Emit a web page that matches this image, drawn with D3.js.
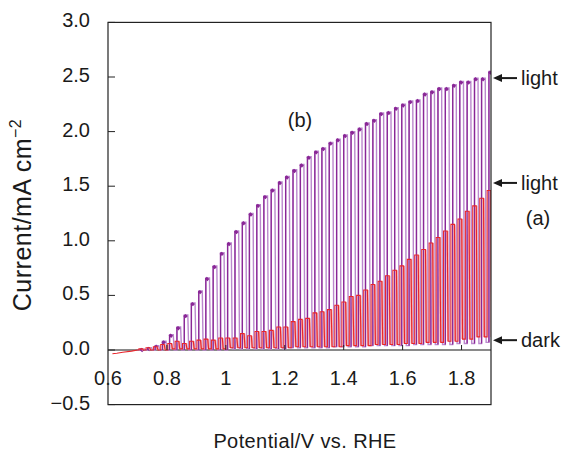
<!DOCTYPE html>
<html>
<head>
<meta charset="utf-8">
<script src="https://d3js.org/d3.v7.min.js"></script>
<style>
  body { margin: 0; background: #fff; }
  text { font-family: "Liberation Sans", Arial, Helvetica, sans-serif; fill: #1a1a1a; }
</style>
</head>
<body>
<div id="chart"></div>
<script>
// chopped-light scans: potential where the light goes on, current with light on and in the dark
const purpleOn = [0.711, 0.735, 0.760, 0.785, 0.809, 0.834, 0.859, 0.883, 0.908, 0.932,
  0.957, 0.982, 1.006, 1.031, 1.056, 1.080, 1.105, 1.129, 1.154, 1.179,
  1.203, 1.228, 1.253, 1.277, 1.302, 1.326, 1.351, 1.376, 1.400, 1.425,
  1.450, 1.474, 1.499, 1.523, 1.548, 1.573, 1.597, 1.622, 1.647, 1.671,
  1.696, 1.720, 1.745, 1.770, 1.794, 1.819, 1.844, 1.868, 1.893];
const purpleLight = [0.01, 0.02, 0.04, 0.08, 0.14, 0.21, 0.32, 0.43, 0.54, 0.66,
  0.77, 0.89, 0.98, 1.09, 1.17, 1.25, 1.33, 1.41, 1.47, 1.54,
  1.59, 1.65, 1.70, 1.77, 1.82, 1.85, 1.90, 1.93, 1.97, 2.00,
  2.03, 2.08, 2.11, 2.17, 2.18, 2.22, 2.25, 2.28, 2.29, 2.35,
  2.37, 2.40, 2.40, 2.43, 2.46, 2.46, 2.49, 2.49, 2.55];
const purpleDark = [0.00, 0.00, 0.00, 0.00, 0.00, 0.00, 0.00, 0.00, 0.00, 0.00,
  0.00, 0.00, 0.01, 0.01, 0.01, 0.01, 0.01, 0.01, 0.01, 0.01,
  0.02, 0.02, 0.02, 0.02, 0.02, 0.02, 0.03, 0.03, 0.03, 0.03,
  0.03, 0.04, 0.04, 0.04, 0.04, 0.04, 0.04, 0.05, 0.05, 0.05,
  0.05, 0.05, 0.05, 0.06, 0.06, 0.06, 0.06, 0.07, 0.07];
const purpleStartV = [0.70];
const purpleStartI = [0.00];

const redOn = [0.705, 0.729, 0.754, 0.779, 0.803, 0.828, 0.853, 0.877, 0.902, 0.926,
  0.951, 0.976, 1.000, 1.025, 1.050, 1.074, 1.099, 1.123, 1.148, 1.173,
  1.197, 1.222, 1.247, 1.271, 1.296, 1.320, 1.345, 1.370, 1.394, 1.419,
  1.444, 1.468, 1.493, 1.517, 1.542, 1.567, 1.591, 1.616, 1.641, 1.665,
  1.690, 1.714, 1.739, 1.764, 1.788, 1.813, 1.838, 1.862, 1.887];
const redLight = [0.01, 0.02, 0.03, 0.05, 0.06, 0.08, 0.06, 0.08, 0.09, 0.10,
  0.09, 0.11, 0.11, 0.11, 0.15, 0.13, 0.17, 0.17, 0.18, 0.21,
  0.21, 0.26, 0.28, 0.29, 0.34, 0.35, 0.37, 0.41, 0.44, 0.49,
  0.50, 0.55, 0.60, 0.63, 0.68, 0.73, 0.77, 0.83, 0.87, 0.92,
  0.98, 1.03, 1.09, 1.15, 1.20, 1.27, 1.32, 1.39, 1.46];
const redDark = [0.00, 0.00, 0.00, 0.00, 0.01, 0.01, 0.01, 0.01, 0.01, 0.01,
  0.01, 0.01, 0.02, 0.02, 0.02, 0.02, 0.02, 0.02, 0.02, 0.02,
  0.02, 0.03, 0.03, 0.03, 0.03, 0.03, 0.03, 0.03, 0.04, 0.04,
  0.04, 0.04, 0.05, 0.05, 0.05, 0.05, 0.06, 0.06, 0.06, 0.07,
  0.07, 0.07, 0.08, 0.08, 0.10, 0.10, 0.12, 0.12, 0.12];
const redStartV = [0.615, 0.630, 0.650, 0.680, 0.700];
const redStartI = [-0.035, -0.030, -0.020, -0.010, 0.000];

const xTicks = [0.6, 0.8, 1.0, 1.2, 1.4, 1.6, 1.8];
const xTickLabels = ["0.6", "0.8", "1", "1.2", "1.4", "1.6", "1.8"];
const yTicks = [-0.5, 0.0, 0.5, 1.0, 1.5, 2.0, 2.5, 3.0];
const yTickLabels = ["\u22120.5", "0.0", "0.5", "1.0", "1.5", "2.0", "2.5", "3.0"];

const arrowLabels = ["light", "light", "dark"];
const arrowValues = [2.49, 1.53, 0.09];

const W = 573, H = 461;
const svg = d3.select("#chart").append("svg").attr("width", W).attr("height", H);

const x = d3.scaleLinear().domain([0.6, 1.9]).range([108, 491]);
const y = d3.scaleLinear().domain([-0.5, 3.0]).range([404.6, 22.4]);

svg.append("clipPath").attr("id", "plotclip")
  .append("rect").attr("x", x(0.6)).attr("y", y(3.0))
  .attr("width", x(1.9) - x(0.6)).attr("height", y(-0.5) - y(3.0));

// zero line
svg.append("line")
  .attr("x1", x(0.6)).attr("x2", x(1.9))
  .attr("y1", y(0)).attr("y2", y(0))
  .attr("stroke", "#8a8a8a").attr("stroke-width", 2);

// build the chopped trace of one scan
function chopTrace(startV, startI, on, light, dark) {
  const pts = startV.map((v, i) => [v, startI[i]]);
  const pulses = [];
  let prevDark = startI[startI.length - 1];
  for (let k = 0; k < on.length; k++) {
    const step = k < on.length - 1 ? on[k + 1] - on[k] : on[k] - on[k - 1];
    const off = on[k] + step * 0.5;
    const down = off + step * 0.12;
    pts.push([on[k], prevDark], [on[k], light[k]], [off, light[k]], [down, dark[k]]);
    pulses.push({ on: on[k], off: off, down: down, from: prevDark, top: light[k], dark: dark[k] });
    prevDark = dark[k];
  }
  pts.push([1.9, prevDark]);
  return { pts, pulses };
}

const line = d3.line().x(d => x(d[0])).y(d => y(d[1]));
const plot = svg.append("g").attr("clip-path", "url(#plotclip)");

// (b) purple
const pb = chopTrace(purpleStartV, purpleStartI, purpleOn, purpleLight, purpleDark);
plot.append("path").attr("d", line(pb.pts))
  .attr("fill", "none").attr("stroke", "#bb88cd").attr("stroke-width", 1.4);
plot.selectAll("path.pr").data(pb.pulses).enter().append("path")
  .attr("class", "pr")
  .attr("d", d => line([[d.on, d.from], [d.on, d.top]]))
  .attr("fill", "none").attr("stroke", "#8a2796").attr("stroke-width", 1.3);
plot.selectAll("path.pt").data(pb.pulses).enter().append("path")
  .attr("class", "pt")
  .attr("d", d => line([[d.on, d.top], [d.on + (d.off - d.on) * 0.7, d.top - 0.02]]))
  .attr("fill", "none").attr("stroke", "#8a2796").attr("stroke-width", 3);

// (a) red
const pa = chopTrace(redStartV, redStartI, redOn, redLight, redDark);
plot.selectAll("path.af").data(pa.pulses).enter().append("path")
  .attr("class", "af")
  .attr("d", d => line([[d.off, d.top], [d.down, d.dark]]))
  .attr("fill", "none").attr("stroke", "#f4a3a3").attr("stroke-width", 2.6);
plot.append("path").attr("d", line(pa.pts))
  .attr("fill", "none").attr("stroke", "#e8262c").attr("stroke-width", 1.1);

// x ticks (pointing up from zero line) and labels
svg.selectAll("line.xt").data(xTicks.slice(1)).enter().append("line")
  .attr("class", "xt")
  .attr("x1", d => x(d)).attr("x2", d => x(d))
  .attr("y1", y(0)).attr("y2", y(0) - 5)
  .attr("stroke", "#222").attr("stroke-width", 1);
svg.selectAll("text.xl").data(xTicks).enter().append("text")
  .attr("class", "xl")
  .attr("x", d => x(d)).attr("y", 385)
  .attr("text-anchor", "middle").attr("font-size", 20)
  .text((d, i) => xTickLabels[i]);

// y ticks and labels
svg.selectAll("line.yt").data(yTicks).enter().append("line")
  .attr("class", "yt")
  .attr("x1", x(0.6)).attr("x2", x(0.6) + 7)
  .attr("y1", d => y(d)).attr("y2", d => y(d))
  .attr("stroke", "#222").attr("stroke-width", 1);
svg.selectAll("text.yl").data(yTicks).enter().append("text")
  .attr("class", "yl")
  .attr("x", 90).attr("y", d => y(d) + 5)
  .attr("text-anchor", "end").attr("font-size", 20)
  .text((d, i) => yTickLabels[i]);

// frame
svg.append("rect")
  .attr("x", x(0.6)).attr("y", y(3.0))
  .attr("width", x(1.9) - x(0.6)).attr("height", y(-0.5) - y(3.0))
  .attr("fill", "none").attr("stroke", "#222").attr("stroke-width", 1.2);

// axis titles
svg.append("text")
  .attr("x", 305).attr("y", 448)
  .attr("text-anchor", "middle").attr("font-size", 20)
  .style("letter-spacing", "0.4px")
  .text("Potential/V vs. RHE");

const yTitle = svg.append("text")
  .attr("transform", "translate(31,215) rotate(-90)")
  .attr("text-anchor", "middle").attr("font-size", 25)
  .style("letter-spacing", "0.5px");
yTitle.append("tspan").text("Current/mA cm");
yTitle.append("tspan").attr("dy", -10).attr("font-size", 16).text("\u22122");

// curve labels
svg.append("text").attr("x", 300).attr("y", 127)
  .attr("text-anchor", "middle").attr("font-size", 20).text("(b)");
svg.append("text").attr("x", 538).attr("y", 225)
  .attr("text-anchor", "middle").attr("font-size", 20).text("(a)");

// arrows to light / dark levels
const ann = svg.selectAll("g.ann").data(arrowLabels).enter().append("g").attr("class", "ann")
  .attr("transform", (d, i) => "translate(0," + y(arrowValues[i]) + ")");
ann.append("line").attr("x1", 500).attr("x2", 517).attr("y1", 0).attr("y2", 0)
  .attr("stroke", "#1a1a1a").attr("stroke-width", 2);
ann.append("path").attr("d", "M493,0L502,-4L502,4Z").attr("fill", "#1a1a1a");
ann.append("text").attr("x", 521).attr("y", 7).attr("font-size", 20).text(d => d);
</script>
</body>
</html>
